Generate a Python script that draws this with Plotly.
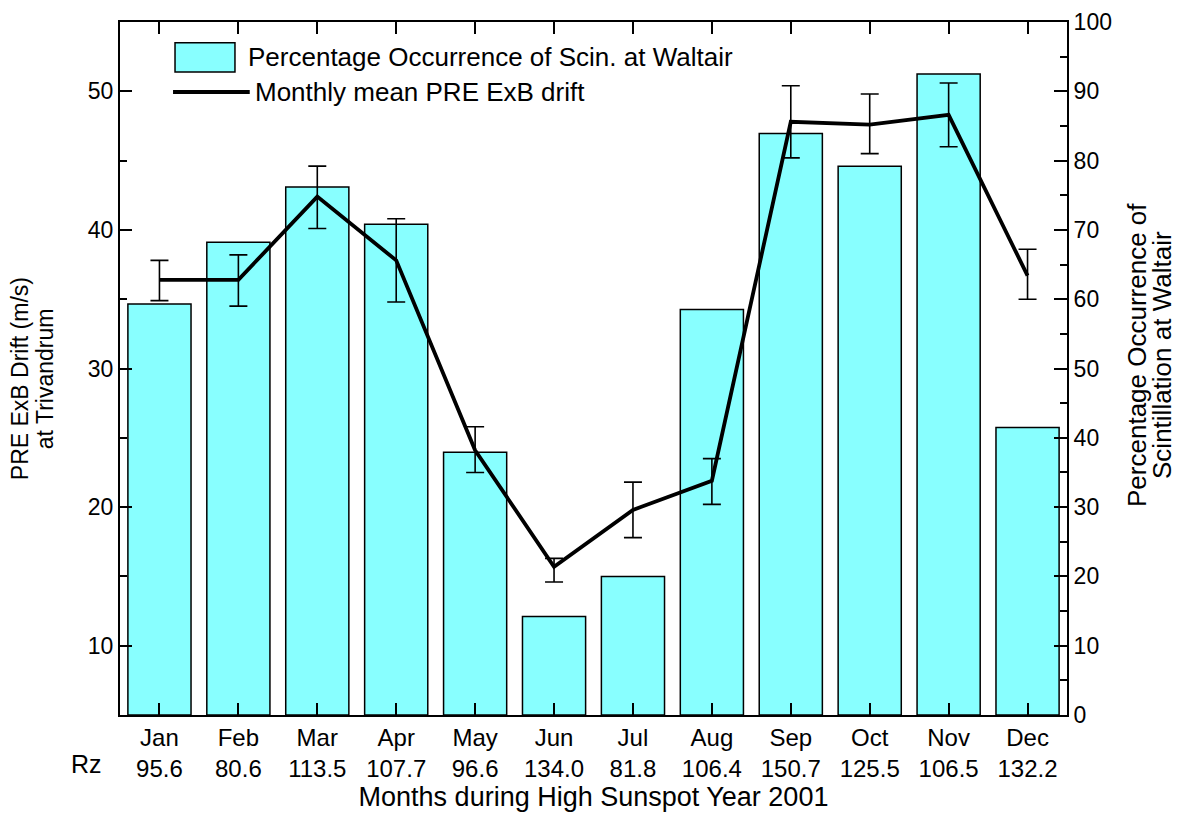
import plotly.graph_objects as go

months = ["Jan", "Feb", "Mar", "Apr", "May", "Jun", "Jul", "Aug", "Sep", "Oct", "Nov", "Dec"]
rz = ["95.6", "80.6", "113.5", "107.7", "96.6", "134.0", "81.8", "106.4", "150.7", "125.5", "106.5", "132.2"]

# Percentage occurrence of scintillation at Waltair (right axis)
scin_pct = [59.3, 68.2, 76.2, 70.8, 37.9, 14.2, 20.0, 58.5, 83.9, 79.2, 92.5, 41.5]

# Monthly mean PRE ExB drift at Trivandrum (left axis)
drift = [36.4, 36.4, 42.4, 37.8, 24.1, 15.7, 19.8, 21.9, 47.8, 47.6, 48.3, 36.7]
drift_upper = [37.8, 38.2, 44.6, 40.8, 25.8, 16.3, 21.8, 23.5, 50.4, 49.8, 50.6, 38.6]
drift_lower = [34.9, 34.5, 40.1, 34.8, 22.5, 14.6, 17.8, 20.2, 45.2, 45.5, 46.0, 35.0]

err_plus = [u - v for u, v in zip(drift_upper, drift)]
err_minus = [v - l for v, l in zip(drift, drift_lower)]

xpos = list(range(len(months)))
ticktext = [f"{m}<br>{r}" for m, r in zip(months, rz)]

FONT = "Liberation Sans, Arial, sans-serif"

fig = go.Figure()
fig.add_trace(go.Bar(
    x=xpos, y=scin_pct, yaxis="y", width=0.8,
    marker=dict(color="#88ffff", line=dict(color="black", width=1.5)),
    name="Percentage Occurrence of Scin. at Waltair", showlegend=False,
))
fig.add_trace(go.Scatter(
    x=xpos, y=drift, yaxis="y2", mode="lines",
    line=dict(color="black", width=3.8),
    error_y=dict(type="data", symmetric=False, array=err_plus, arrayminus=err_minus,
                 color="black", thickness=1.6, width=9),
    name="Monthly mean PRE ExB drift", showlegend=False,
))

# Manual legend
fig.add_shape(type="rect", xref="paper", yref="paper", x0=0.0581, x1=0.1214, y0=0.928, y1=0.970,
              fillcolor="#88ffff", line=dict(color="black", width=1.5))
fig.add_shape(type="line", xref="paper", yref="paper", x0=0.056, x1=0.137, y0=0.899, y1=0.899,
              line=dict(color="black", width=3.8))
fig.add_annotation(xref="paper", yref="paper", x=0.133, y=0.949, xanchor="left", yanchor="middle",
                   text="Percentage Occurrence of Scin. at Waltair", showarrow=False,
                   font=dict(family=FONT, size=26, color="black"))
fig.add_annotation(xref="paper", yref="paper", x=0.140, y=0.899, xanchor="left", yanchor="middle",
                   text="Monthly mean PRE ExB drift", showarrow=False,
                   font=dict(family=FONT, size=26, color="black"))
fig.add_annotation(xref="paper", yref="paper", x=-0.017, y=-0.0707, xanchor="right", yanchor="middle",
                   text="Rz", showarrow=False, font=dict(family=FONT, size=25, color="black"))

# Axis titles (two lines each, placed as rotated text)
for txt, xp, yp, sz in [
    ("PRE ExB Drift (m/s)", -0.1056, 0.486, 23),
    ("at Trivandrum", -0.0792, 0.486, 23),
    ("Percentage Occurrence of", 1.0739, 0.5195, 26),
    ("Scintillation at Waltair", 1.1003, 0.5195, 26),
]:
    fig.add_annotation(xref="paper", yref="paper", x=xp, y=yp, xanchor="center", yanchor="middle",
                       text=txt, textangle=-90, showarrow=False,
                       font=dict(family=FONT, size=sz, color="black"))

fig.update_layout(
    width=1192, height=814,
    margin=dict(l=112, r=133, t=14, b=107, autoexpand=False),
    paper_bgcolor="white", plot_bgcolor="white",
    font=dict(family=FONT, size=23, color="black"),
    bargap=0.2,
    xaxis=dict(
        range=[-0.5, 11.5], tickmode="array", tickvals=xpos, ticktext=ticktext,
        showline=True, linecolor="black", linewidth=2, mirror="ticks",
        ticks="inside", ticklen=12, tickwidth=2, tickcolor="black",
        showgrid=False, zeroline=False, automargin=False,
        tickfont=dict(family=FONT, size=24),
        title=dict(text="Months during High Sunspot Year 2001", font=dict(family=FONT, size=27), standoff=4),
    ),
    yaxis=dict(
        side="right", range=[0, 100], dtick=10, tick0=0,
        showline=True, linecolor="black", linewidth=2,
        ticks="inside", ticklen=13, tickwidth=2, tickcolor="black",
        minor=dict(dtick=5, ticks="inside", ticklen=7, tickwidth=2, tickcolor="black"),
        showgrid=False, zeroline=False, automargin=False,
        tickfont=dict(family=FONT, size=23),
    ),
    yaxis2=dict(
        side="left", overlaying="y", range=[5, 55], tickvals=[10, 20, 30, 40, 50],
        showline=True, linecolor="black", linewidth=2,
        ticks="inside", ticklen=12, tickwidth=2, tickcolor="black",
        minor=dict(tickvals=[5, 15, 25, 35, 45, 55], ticks="inside", ticklen=7, tickwidth=2, tickcolor="black"),
        showgrid=False, zeroline=False, automargin=False,
        tickfont=dict(family=FONT, size=23),
    ),
)

fig.write_html("out.html")
